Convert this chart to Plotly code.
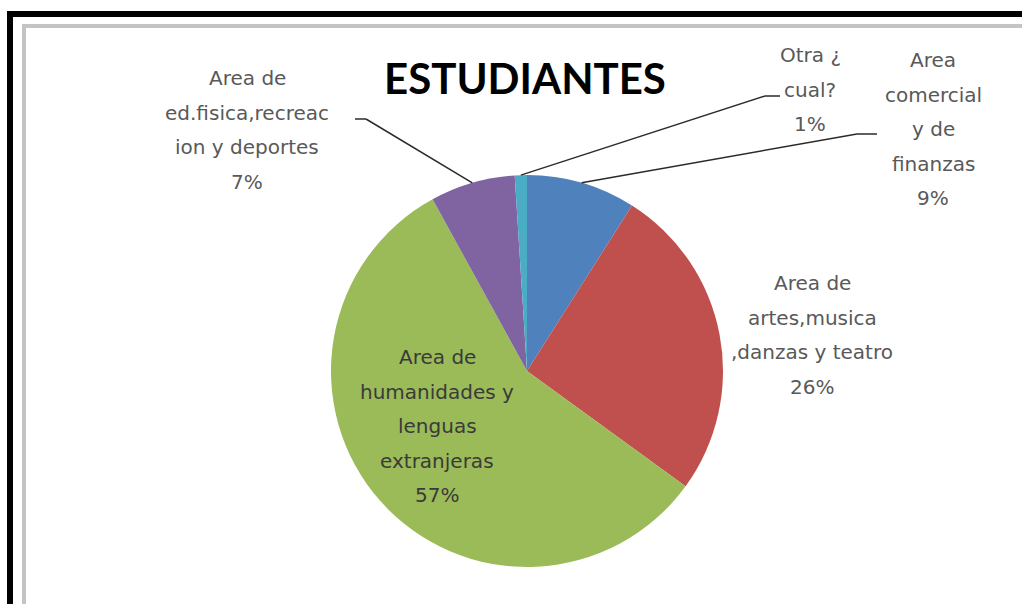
import math
import plotly.graph_objects as go

# ---- data ----
categories = [
    "Area comercial y de finanzas",
    "Area de artes,musica ,danzas y teatro",
    "Area de humanidades y lenguas extranjeras",
    "Area de ed.fisica,recreacion y deportes",
    "Otra ¿ cual?",
]
values = [9, 26, 57, 7, 1]
label_lines = [
    ["Area", "comercial", "y de", "finanzas"],
    ["Area de", "artes,musica", ",danzas y teatro"],
    ["Area de", "humanidades y", "lenguas", "extranjeras"],
    ["Area de", "ed.fisica,recreac", "ion y deportes"],
    ["Otra ¿", "cual?"],
]
title_text = "ESTUDIANTES"
colors = ["#4F81BD", "#C0504D", "#9BBB59", "#8064A2", "#4BACC6"]

# ---- layout geometry (screen pixels) ----
W, H = 1022, 604
CX, CY, R = 527, 371, 196
LINE_SP = 34.5
# label block: (center x, first line y, colour)
label_pos = [
    (933, 60, "#595959"),
    (812, 283, "#595959"),
    (437, 357, "#3a3a3a"),
    (247, 78, "#595959"),
    (810, 55, "#595959"),
]
# leader elbows: (start x, y, elbow x) or None
leaders = [
    (877, 134, 857),
    None,
    None,
    (355, 119, 366),
    (780, 96, 765),
]


def px(x):
    return x / W


def py(y):
    return 1 - y / H


fig = go.Figure(
    go.Pie(
        labels=categories,
        values=values,
        sort=False,
        direction="clockwise",
        rotation=0,
        marker=dict(colors=colors, line=dict(width=0)),
        textinfo="none",
        hoverinfo="label+percent",
        showlegend=False,
        domain=dict(x=[px(CX - R), px(CX + R)], y=[py(CY + R), py(CY - R)]),
    )
)

total = sum(values)
annotations = []
shapes = []

# frame
shapes += [
    dict(type="rect", xref="paper", yref="paper", x0=px(7), x1=px(1040), y0=py(11), y1=py(17),
         fillcolor="#000000", line=dict(width=0), layer="above"),
    dict(type="rect", xref="paper", yref="paper", x0=px(7), x1=px(13), y0=py(11), y1=py(620),
         fillcolor="#000000", line=dict(width=0), layer="above"),
    dict(type="rect", xref="paper", yref="paper", x0=px(22), x1=px(1040), y0=py(24), y1=py(28),
         fillcolor="#c4c4c4", line=dict(width=0), layer="above"),
    dict(type="rect", xref="paper", yref="paper", x0=px(22), x1=px(26), y0=py(24), y1=py(620),
         fillcolor="#c4c4c4", line=dict(width=0), layer="above"),
]

cum = 0
for i, v in enumerate(values):
    mid = (cum + v / 2) / total
    cum += v
    th = 2 * math.pi * mid
    ax = CX + R * math.sin(th)
    ay = CY - R * math.cos(th)
    lines = label_lines[i] + [f"{round(100 * v / total)}%"]
    lx, ly, col = label_pos[i]
    for k, t in enumerate(lines):
        annotations.append(dict(
            x=px(lx), y=py(ly + k * LINE_SP), xref="paper", yref="paper",
            text=t, showarrow=False, xanchor="center", yanchor="middle",
            font=dict(family="DejaVu Sans", size=20, color=col),
        ))
    if leaders[i] is not None:
        sx, sy, ex = leaders[i]
        shapes.append(dict(type="line", xref="paper", yref="paper",
                           x0=px(sx), y0=py(sy), x1=px(ex), y1=py(sy),
                           line=dict(color="#2b2b2b", width=1.5)))
        shapes.append(dict(type="line", xref="paper", yref="paper",
                           x0=px(ex), y0=py(sy), x1=px(ax), y1=py(ay),
                           line=dict(color="#2b2b2b", width=1.5)))

annotations.append(dict(
    x=px(525), y=py(78), xref="paper", yref="paper", text=f"<b>{title_text}</b>",
    showarrow=False, xanchor="center", yanchor="middle",
    font=dict(family="Lato", size=42, color="#000000"),
))

fig.update_layout(
    width=W, height=H,
    margin=dict(l=0, r=0, t=0, b=0),
    paper_bgcolor="#ffffff", plot_bgcolor="#ffffff",
    annotations=annotations, shapes=shapes,
)

fig.write_html(
    "out.html",
    config={"displayModeBar": False},
    post_script="document.body.style.margin='0';document.body.style.overflow='hidden';",
)
